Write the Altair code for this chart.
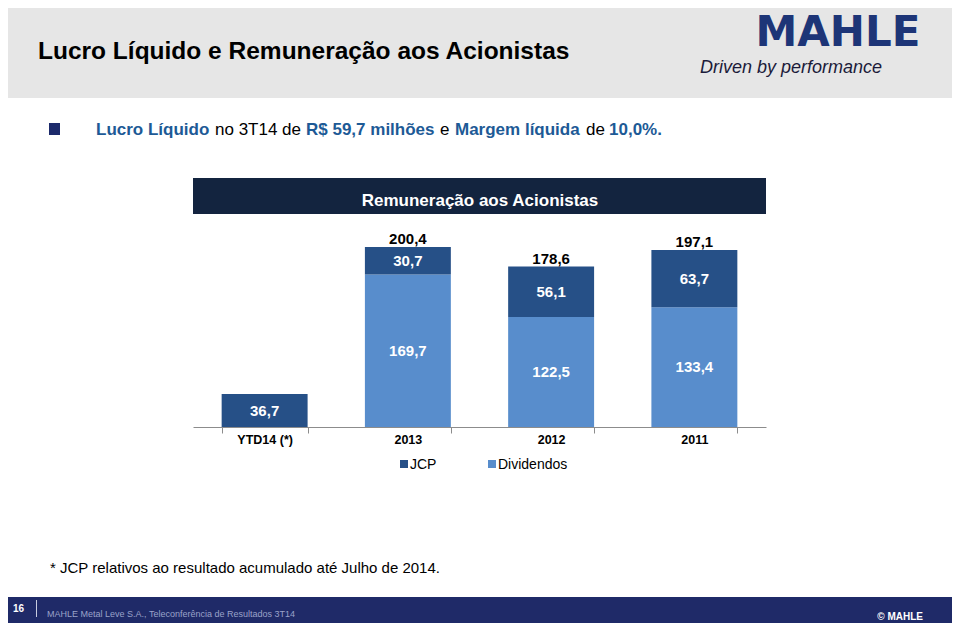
import altair as alt
import pandas as pd

# ---------------- data ----------------
categories = ["YTD14 (*)", "2013", "2012", "2011"]
jcp = [36.7, 30.7, 56.1, 63.7]
dividendos = [0.0, 169.7, 122.5, 133.4]
series = ["JCP", "Dividendos"]
series_colors = ["#265087", "#588dcc"]
show_total = [False, True, True, True]

title_text = "Lucro Líquido e Remuneração aos Acionistas"
chart_title = "Remuneração aos Acionistas"
footnote = "* JCP relativos ao resultado acumulado até Julho de 2014."
footer_text = "MAHLE Metal Leve S.A., Teleconferência de Resultados 3T14"
page_number = "16"

SANS = "Liberation Sans, Arial, Helvetica, sans-serif"
LOGO = "DejaVu Sans, Liberation Sans, sans-serif"


def br(v):
    return f"{v:.1f}".replace(".", ",")


rows = []
for c, j, d in zip(categories, jcp, dividendos):
    if d > 0:
        rows.append(dict(cat=c, serie="Dividendos", value=d, ord=0, label=br(d)))
    if j > 0:
        rows.append(dict(cat=c, serie="JCP", value=j, ord=1, label=br(j)))
bars_df = pd.DataFrame(rows)

tot_df = pd.DataFrame(
    [dict(cat=c, total=round(j + d, 1), label=br(j + d))
     for c, j, d, s in zip(categories, jcp, dividendos, show_total) if s]
)

one = pd.DataFrame({"a": [0]})

# plot-area origin on the page
OX, OY = 193, 227


def P(x):
    return x - OX


def Q(y):
    return y - OY


def rect(x1, x2, y1, y2, color):
    return alt.Chart(one).mark_rect(color=color).encode(
        x=alt.value(P(x1)), x2=alt.value(P(x2)),
        y=alt.value(Q(y1)), y2=alt.value(Q(y2)))


def text(t, x, y, size, color, weight="normal", align="left", font=SANS,
         style="normal", baseline="alphabetic"):
    return alt.Chart(one).mark_text(
        text=t, align=align, baseline=baseline, fontSize=size, color=color,
        fontWeight=weight, font=font, fontStyle=style).encode(
        x=alt.value(P(x)), y=alt.value(Q(y)))


def vline(x, y1, y2, color, w=1):
    return alt.Chart(one).mark_rule(color=color, strokeWidth=w).encode(
        x=alt.value(P(x)), y=alt.value(Q(y1)), y2=alt.value(Q(y2)))


# ---------------- decorations ----------------
header = rect(0, 960, 0, 98, "#e6e6e6")
band = rect(193, 766, 178, 214, "#13243f")
footer = rect(0, 960, 597, 640, "#1f2a68")
bullet = rect(49, 60, 123, 135, "#1c2a6b")

BLUE = "#1d5a96"
deco_text = [
    text(title_text, 38, 59, 24.5, "#000000", weight="bold"),
    text("MAHLE", 838, 46, 42, "#1d3577", weight="bold", align="center", font=LOGO),
    text("Driven by performance", 700, 73, 18, "#1b1b3a", style="italic"),
    text("Lucro Líquido", 96, 135, 17, BLUE, weight="bold"),
    text("no 3T14 de", 215, 135, 17, "#000000"),
    text("R$ 59,7 milhões", 306, 135, 17, BLUE, weight="bold"),
    text("e", 440, 135, 17, "#000000"),
    text("Margem líquida", 455, 135, 17, BLUE, weight="bold"),
    text("de", 586, 135, 17, "#000000"),
    text("10,0%.", 609, 135, 17, BLUE, weight="bold"),
    text(chart_title, 480, 206, 17, "#ffffff", weight="bold", align="center"),
    text(footnote, 50, 573, 15, "#000000"),
    text(page_number, 13, 612, 10, "#ffffff", weight="bold"),
    vline(36.5, 600, 617, "#c8cce0"),
    text(footer_text, 47, 617, 9, "#9aa2c8"),
    text("© MAHLE", 923, 620, 10, "#ffffff", weight="bold", align="right"),
]

# manual legend built from series names
legend_layers = []
leg_x = [400, 488]
for name, col, lx in zip(series, series_colors, leg_x):
    legend_layers.append(rect(lx, lx + 8, 460, 468, col))
    legend_layers.append(text(name, lx + 10, 469, 14, "#000000"))

# ---------------- bars ----------------
xscale = alt.Scale(domain=categories, paddingInner=0.4, paddingOuter=0.2)
yscale = alt.Scale(domain=[0, 222.7], nice=False, zero=True)

base = alt.Chart(bars_df).transform_stack(
    stack="value", groupby=["cat"], as_=["y0", "y1"],
    sort=[alt.SortField("ord", order="ascending")]
).transform_calculate(mid="(datum.y0 + datum.y1) / 2")

bars = base.mark_bar().encode(
    x=alt.X("cat:N", sort=categories, scale=xscale,
            axis=alt.Axis(title=None, labelAngle=0, labelFont=SANS,
                          labelFontWeight="bold", labelFontSize=12.5,
                          labelColor="#000000", domainColor="#8c8c8c",
                          tickColor="#8c8c8c", tickSize=6, tickBand="extent",
                          labelPadding=0, grid=False)),
    y=alt.Y("y0:Q", scale=yscale, axis=None),
    y2="y1:Q",
    color=alt.Color("serie:N", scale=alt.Scale(domain=series, range=series_colors),
                    legend=None),
)

inner_labels = base.mark_text(
    font=SANS, fontWeight="bold", fontSize=15, color="#ffffff",
    baseline="middle", align="center"
).encode(
    x=alt.X("cat:N", sort=categories, scale=xscale),
    y=alt.Y("mid:Q", scale=yscale, axis=None),
    text="label:N",
)

totals = alt.Chart(tot_df).mark_text(
    font=SANS, fontWeight="bold", fontSize=15, color="#000000",
    baseline="alphabetic", align="center", dy=-3
).encode(
    x=alt.X("cat:N", sort=categories, scale=xscale),
    y=alt.Y("total:Q", scale=yscale, axis=None),
    text="label:N",
)

chart = alt.layer(
    header, band, footer, bullet,
    bars, inner_labels, totals,
    *deco_text, *legend_layers,
).properties(
    width=573, height=200,
    autosize=alt.AutoSizeParams(type="none"),
    padding={"left": 185, "top": 219, "right": 186, "bottom": 196},
    background="#ffffff",
).configure_view(stroke=None)

chart.save("out.html", embed_options={"renderer": "svg", "actions": False})
